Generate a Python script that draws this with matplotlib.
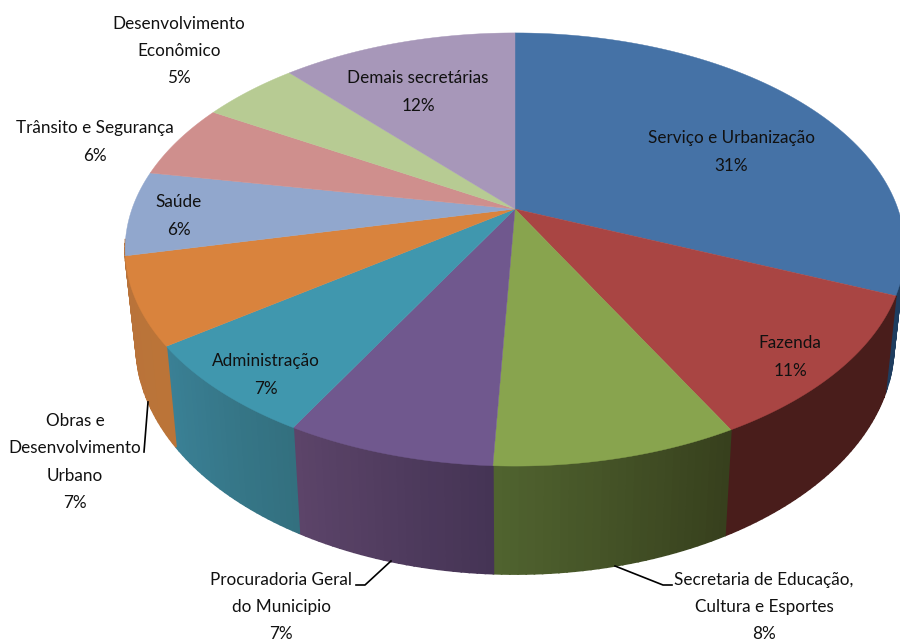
import numpy as np
import matplotlib
matplotlib.use('Agg')
import matplotlib.pyplot as plt
from matplotlib.colors import to_rgb

plt.rcParams['font.family'] = ['Lato', 'DejaVu Sans']

# slices clockwise from the top, shares
names = ['Serviço e Urbanização', 'Fazenda', 'Secretaria de Educação,\nCultura e Esportes',
         'Procuradoria Geral\ndo Municipio', 'Administração', 'Obras e\nDesenvolvimento\nUrbano',
         'Saúde', 'Trânsito e Segurança', 'Desenvolvimento\nEconômico', 'Demais secretárias']
values = [31.3, 10.9, 8.55, 7.3, 7.0, 6.5, 6.3, 5.6, 4.85, 11.7]
shown = ['31%', '11%', '8%', '7%', '7%', '7%', '6%', '6%', '5%', '12%']
top_colors = ['#4572a6', '#a94543', '#88a44e', '#70588e', '#4097ae', '#d9833d',
              '#91a7cd', '#cf8f8d', '#b7cb93', '#a797b9']
wall_left = ['#1f3d5f', '#491d1b', '#50632f', '#5c4469', '#3a8095', '#b9733a',
             '#b9733a', '#b9733a', '#b9733a', '#b9733a']
wall_right = ['#1f3d5f', '#491d1b', '#37401d', '#453455', '#33707f', '#bb7438',
              '#b9733a', '#b9733a', '#b9733a', '#b9733a']
label_x = [731, 790, 764, 281, 266, 75, 179, 95, 179, 418]
label_y = [152, 357, 607, 607, 375, 462, 216, 142, 51, 92]

# perspective of the pie disc, in pixels of the picture
cx, cy = 515, 209
rx, ry = 383, 209
k = 0.187


def top_rim(theta):
    u, v = np.sin(theta), np.cos(theta)
    d = 1 + k * v
    return cx + rx * u / d, cy - ry * v / d


def bottom_rim(theta):
    x, y = top_rim(theta)
    return cx + 0.972 * (x - cx), 574 + 1.06 * (y - 466)


fig = plt.figure(figsize=(9, 6.41), dpi=100)
ax = fig.add_axes([0, 0, 1, 1])
ax.set_xlim(0, 900)
ax.set_ylim(641, 0)
ax.axis('off')

edges = np.radians(np.cumsum([0] + values) * 3.6)

# side wall, only the part that faces the viewer
for i in range(len(values)):
    a = max(edges[i], np.radians(98))
    b = min(edges[i + 1], np.radians(262))
    if b <= a:
        continue
    steps = np.linspace(a, b, max(2, int(np.degrees(b - a)) + 1))
    c0, c1 = np.array(to_rgb(wall_left[i])), np.array(to_rgb(wall_right[i]))
    for j in range(len(steps) - 1):
        f = j / max(1, len(steps) - 2)
        # theta runs right to left along the front of the pie
        col = c1 * (1 - f) + c0 * f
        t = steps[j:j + 2]
        xt, yt = top_rim(t)
        xb, yb = bottom_rim(t)
        ax.fill(np.r_[xt, xb[::-1]], np.r_[yt, yb[::-1]], color=col, lw=1.2, zorder=1)

# top of the pie
for i in range(len(values)):
    t = np.linspace(edges[i], edges[i + 1], 80)
    x, y = top_rim(t)
    ax.fill(np.r_[cx, x], np.r_[cy, y], color=top_colors[i], lw=0.3, zorder=2)

# labels
for i in range(len(values)):
    ax.text(label_x[i], label_y[i], names[i] + '\n' + shown[i], ha='center', va='center',
            fontsize=12.3, color='#111111', linespacing=1.88, zorder=4)

# leader lines
ax.plot([144, 148], [452, 402], color='black', lw=1.2, zorder=3)
ax.plot([356, 365, 391], [585, 585, 561], color='black', lw=1.2, zorder=3)
ax.plot([615, 663, 672], [566, 585, 585], color='black', lw=1.2, zorder=3)

plt.savefig('out.png', dpi=100)
